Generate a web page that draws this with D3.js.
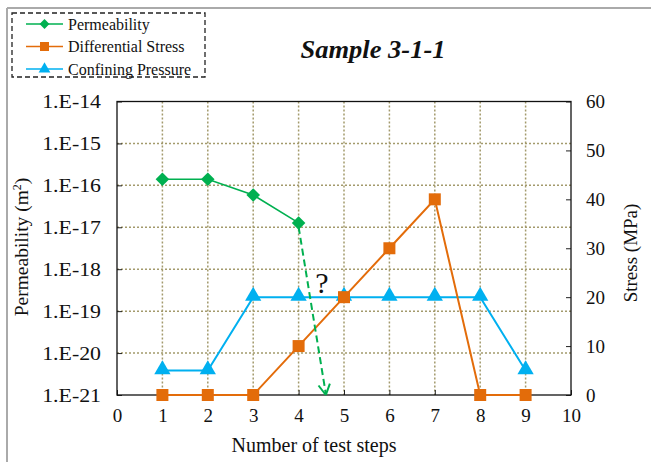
<!DOCTYPE html>
<html><head><meta charset="utf-8">
<script src="https://cdn.jsdelivr.net/npm/d3@7"></script>
<style>
body{margin:0;background:#fff;}
svg{display:block;}
svg text{font-family:"Liberation Serif","Times New Roman",serif;}
</style></head>
<body><svg id="c" width="651" height="462"></svg>
<script>
const steps = [1,2,3,4,5,6,7,8,9];
const permSteps = [1,2,3,4];
const permeability = [1.4e-16,1.4e-16,5.9e-17,1.27e-17];
const diffStress = [0,0,0,10,20,30,40,0,0];
const confining = [5,5,20,20,20,20,20,20,5];
const xTicks = [0,1,2,3,4,5,6,7,8,9,10];
const permTicks = [1e-14,1e-15,1e-16,1e-17,1e-18,1e-19,1e-20,1e-21];
const permTickLabels = ["1.E-14","1.E-15","1.E-16","1.E-17","1.E-18","1.E-19","1.E-20","1.E-21"];
const stressTicks = [0,10,20,30,40,50,60];
const arrowEnd = [4.6, 1e-21];

const FF = "Liberation Serif";
const svg = d3.select("#c");
const L=117,R=571,T=101.5,B=395;
const x = d3.scaleLinear().domain([0,10]).range([L,R]);
const yP = d3.scaleLog().domain([1e-21,1e-14]).range([B,T]);
const yS = d3.scaleLinear().domain([0,60]).range([B,T]);

svg.append("line").attr("x1",7).attr("x2",651).attr("y1",8).attr("y2",8).attr("stroke","#aaa").attr("stroke-width",2);
svg.append("line").attr("x1",7).attr("x2",7).attr("y1",8).attr("y2",462).attr("stroke","#aaa").attr("stroke-width",2);

const gridC="#a39a6c";
svg.append("g").selectAll("line").data(steps).join("line")
 .attr("x1",d=>x(d)).attr("x2",d=>x(d)).attr("y1",T).attr("y2",B)
 .attr("stroke",gridC).attr("stroke-width",1.5).attr("stroke-dasharray","2,2");
svg.append("g").selectAll("line").data(permTicks.slice(1,-1)).join("line")
 .attr("x1",L).attr("x2",R).attr("y1",d=>yP(d)).attr("y2",d=>yP(d))
 .attr("stroke",gridC).attr("stroke-width",1.5).attr("stroke-dasharray","2,2");

const ax = svg.append("g").attr("transform",`translate(0,${B})`)
 .call(d3.axisBottom(x).tickValues(xTicks).tickSize(-5).tickPadding(14).tickFormat(d3.format("d")));
const ayl = svg.append("g").attr("transform",`translate(${L},0)`)
 .call(d3.axisLeft(yP).tickValues(permTicks).tickSize(-5).tickPadding(16).tickFormat((d,i)=>permTickLabels[i]));
const ayr = svg.append("g").attr("transform",`translate(${R},0)`)
 .call(d3.axisRight(yS).tickValues(stressTicks).tickSize(-5).tickPadding(15));
[ax,ayl,ayr].forEach(g=>{
 g.attr("font-family",FF);
 g.select(".domain").remove();
 g.selectAll("text").attr("font-size","19px").attr("font-family",FF).attr("fill","#111");
 g.selectAll("line").attr("stroke","#222");
});
ayl.selectAll("text").attr("transform","translate(-16,0) scale(1.15,1) translate(16,0)");
svg.append("rect").attr("x",L).attr("y",T).attr("width",R-L).attr("height",B-T)
 .attr("fill","none").attr("stroke","#111").attr("stroke-width",1.3);

const green="#00b050", orange="#e36c0a", blue="#00b0f0";
const lineF = (ys)=>d3.line().x(d=>x(d[0])).y(d=>ys(d[1]));
svg.append("path").datum(steps.map((s,i)=>[s,confining[i]])).attr("d",lineF(yS))
 .attr("fill","none").attr("stroke",blue).attr("stroke-width",2);
svg.append("path").datum(steps.map((s,i)=>[s,diffStress[i]])).attr("d",lineF(yS))
 .attr("fill","none").attr("stroke",orange).attr("stroke-width",2);
svg.append("path").datum(permSteps.map((s,i)=>[s,permeability[i]])).attr("d",lineF(yP))
 .attr("fill","none").attr("stroke",green).attr("stroke-width",1.6);

const x0=x(permSteps[3]), y0=yP(permeability[3]), x1=x(arrowEnd[0]), y1=yP(arrowEnd[1]);
svg.append("line").attr("x1",x0).attr("y1",y0+4).attr("x2",x1).attr("y2",y1-1)
 .attr("stroke",green).attr("stroke-width",2).attr("stroke-dasharray","7,4");
const ang=Math.atan2(y1-y0,x1-x0);
[0.5,-0.5].forEach(o=>{
 svg.append("line").attr("x1",x1).attr("y1",y1).attr("x2",x1-12*Math.cos(ang+o)).attr("y2",y1-12*Math.sin(ang+o))
  .attr("stroke",green).attr("stroke-width",2);
});

svg.append("g").selectAll("path").data(steps.map((s,i)=>[s,confining[i]])).join("path")
 .attr("d",d3.symbol().type(d3.symbolTriangle).size(115)()).attr("transform",d=>`translate(${x(d[0])},${yS(d[1])-1})`).attr("fill",blue);
svg.append("g").selectAll("rect").data(steps.map((s,i)=>[s,diffStress[i]])).join("rect")
 .attr("x",d=>x(d[0])-6).attr("y",d=>yS(d[1])-6).attr("width",12).attr("height",12).attr("fill",orange);
svg.append("g").selectAll("rect").data(permSteps.map((s,i)=>[s,permeability[i]])).join("rect")
 .attr("x",-4.8).attr("y",-4.8).attr("width",9.6).attr("height",9.6)
 .attr("transform",d=>`translate(${x(d[0])},${yP(d[1])}) rotate(45)`).attr("fill",green);

svg.append("text").attr("x",322).attr("y",293).attr("text-anchor","middle").attr("font-family",FF).attr("font-size","30px").attr("fill","#111").text("?");

svg.append("text").attr("x",373).attr("y",58).attr("text-anchor","middle").attr("font-family",FF)
 .attr("font-size","25px").attr("font-weight","bold").attr("font-style","italic").attr("fill","#111")
 .attr("transform","translate(373,0) scale(1.06,1) translate(-373,0)").text("Sample 3-1-1");

const pt = svg.append("text").attr("transform","translate(28,247) rotate(-90)").attr("text-anchor","middle").attr("font-family",FF).attr("font-size","19.5px").attr("fill","#111");
pt.append("tspan").text("Permeability (m");
pt.append("tspan").attr("baseline-shift","super").attr("font-size","12px").text("2");
pt.append("tspan").text(")");
svg.append("text").attr("transform","translate(637,253) rotate(-90)").attr("text-anchor","middle").attr("font-family",FF).attr("font-size","19px").attr("fill","#111").text("Stress (MPa)");
svg.append("text").attr("x",314).attr("y",452).attr("text-anchor","middle").attr("font-family",FF).attr("font-size","20px").attr("fill","#111").text("Number of test steps");

svg.append("rect").attr("x",12).attr("y",13).attr("width",193).attr("height",64).attr("fill","#fff")
 .attr("stroke","#222").attr("stroke-width",1.3).attr("stroke-dasharray","5,3");
const leg=[["Permeability",green,"d"],["Differential Stress",orange,"s"],["Confining Pressure",blue,"t"]];
leg.forEach((l,i)=>{
 const yy=24+i*22.5;
 svg.append("line").attr("x1",26).attr("x2",63).attr("y1",yy).attr("y2",yy).attr("stroke",l[1]).attr("stroke-width",1.6);
 if(l[2]==="d") svg.append("rect").attr("x",-3.5).attr("y",-3.5).attr("width",7).attr("height",7).attr("transform",`translate(44.5,${yy}) rotate(45)`).attr("fill",l[1]);
 if(l[2]==="s") svg.append("rect").attr("x",40).attr("y",yy-4.5).attr("width",9).attr("height",9).attr("fill",l[1]);
 if(l[2]==="t") svg.append("path").attr("d",d3.symbol().type(d3.symbolTriangle).size(60)()).attr("transform",`translate(44.5,${yy})`).attr("fill",l[1]);
 svg.append("text").attr("x",68).attr("y",yy+5.5).attr("font-family",FF).attr("font-size","16px").attr("fill","#111").text(l[0]);
});
</script></body></html>
